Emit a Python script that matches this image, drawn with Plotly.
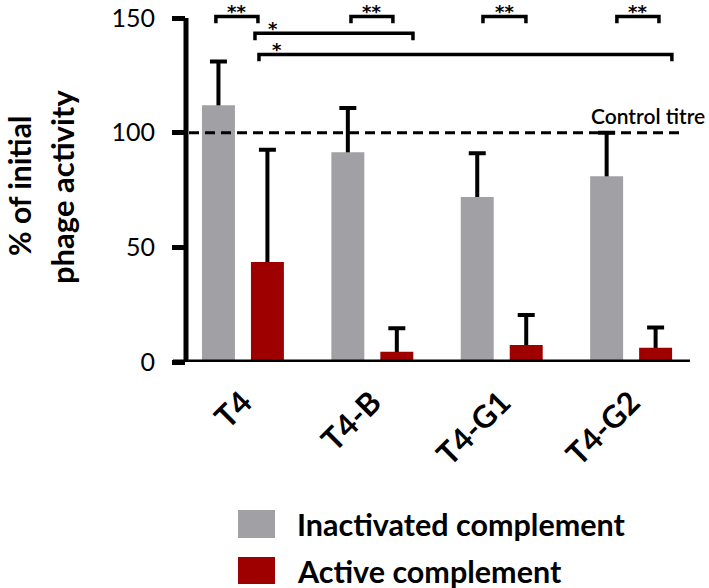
import plotly.graph_objects as go

# data
categories = ["T4", "T4-B", "T4-G1", "T4-G2"]
inactivated = [112, 91.5, 72, 81]
inactivated_err = [19, 19.3, 19, 19]
active = [43.6, 4.5, 7.4, 6.2]
active_err = [48.9, 10.2, 13.1, 8.8]

series_names = ["Inactivated complement", "Active complement"]
control_titre = 100

# significance brackets (category units), label and level
bracket_x0 = [-0.209, 0.835, 1.855, 2.890, 0.093, 0.124]
bracket_x1 = [0.116, 1.159, 2.187, 3.215, 1.314, 3.315]
bracket_y = [150.7, 150.7, 150.7, 150.7, 143.3, 134.1]
bracket_text = ["**", "**", "**", "**", "*", "*"]

GREY = "#A1A1A5"
RED = "#9E0000"
FONT = "Lato"

W, H = 709, 588
L, R, T, B = 186, 19, 0, 226
PW, PH = W - L - R, H - T - B
UNIT = 344 / 150          # pixels per percent
Y_TOP = (H - B) / UNIT


def px_x(px):
    return (px - L) / PW


def px_y(px):
    return (H - B - px) / PH


def px_val(px):
    return (H - B - px) / UNIT


fig = go.Figure()

# error bars go first so the bars on top hide the part inside them
for vals, errs, grp in [(inactivated, inactivated_err, "a"), (active, active_err, "b")]:
    fig.add_trace(go.Bar(
        x=categories, y=vals, offsetgroup=grp,
        marker=dict(color="rgba(0,0,0,0)", line=dict(width=0)),
        error_y=dict(type="data", symmetric=False, array=errs, arrayminus=vals,
                     color="black", thickness=4, width=8.5),
        showlegend=False, hoverinfo="skip",
    ))

for vals, color, grp, name in [(inactivated, GREY, "a", series_names[0]),
                               (active, RED, "b", series_names[1])]:
    fig.add_trace(go.Bar(
        x=categories, y=vals, offsetgroup=grp, name=name,
        marker=dict(color=color, line=dict(width=0)),
        showlegend=False,
    ))

shapes = []
# axis lines
shapes.append(dict(type="line", xref="paper", yref="y", x0=px_x(173), x1=1, y0=0, y1=0,
                   line=dict(color="black", width=5)))
shapes.append(dict(type="line", xref="paper", yref="y", x0=0, x1=0, y0=0, y1=150,
                   line=dict(color="black", width=5)))
# control titre
shapes.append(dict(type="line", xref="paper", yref="y", x0=px_x(173), x1=px_x(683),
                   y0=control_titre, y1=control_titre,
                   line=dict(color="black", width=3, dash="10px,6px")))

annotations = []
for x0, x1, y, txt in zip(bracket_x0, bracket_x1, bracket_y, bracket_text):
    leg = y - 3.0
    shapes.append(dict(type="path", xref="x", yref="y",
                       path=f"M {x0},{leg} L {x0},{y} L {x1},{y} L {x1},{leg}",
                       line=dict(color="black", width=3.5)))
    lx = (x0 + x1) / 2 if txt == "**" else x0 + 0.14
    annotations.append(dict(x=lx, y=y, xref="x", yref="y", text=f"<b>{txt}</b>",
                            showarrow=False, xanchor="center", yanchor="bottom",
                            yshift=-8, font=dict(family="DejaVu Sans", size=18, color="black")))

annotations.append(dict(x=px_x(707), y=px_val(115.5), xref="paper", yref="y",
                        text="Control titre", showarrow=False, xanchor="right",
                        yanchor="middle",
                        font=dict(family=FONT, size=21, color="black", weight=600)))

# y title, two lines
annotations.append(dict(x=px_x(19), y=px_y(186), xref="paper", yref="paper",
                        text="<b>% of initial</b>", textangle=-90, showarrow=False,
                        xanchor="center", yanchor="middle",
                        font=dict(family=FONT, size=30, color="black")))
annotations.append(dict(x=px_x(62), y=px_y(187), xref="paper", yref="paper",
                        text="<b>phage activity</b>", textangle=-90, showarrow=False,
                        xanchor="center", yanchor="middle",
                        font=dict(family=FONT, size=31, color="black")))

# legend drawn by hand
for name, color, top, bot in [(series_names[0], GREY, 510, 538),
                              (series_names[1], RED, 557, 584)]:
    shapes.append(dict(type="rect", xref="paper", yref="paper",
                       x0=px_x(238), x1=px_x(275), y0=px_y(bot), y1=px_y(top),
                       fillcolor=color, line=dict(width=0)))
    annotations.append(dict(x=px_x(295), y=px_y((top + bot) / 2), xref="paper", yref="paper",
                            text=f"<b>{name}</b>", showarrow=False, xanchor="left",
                            yanchor="middle",
                            font=dict(family=FONT, size=30.5, color="black")))

fig.update_layout(
    width=W, height=H,
    margin=dict(l=L, r=R, t=T, b=B),
    paper_bgcolor="white", plot_bgcolor="white",
    barmode="group", bargap=0.243, bargroupgap=0.327,
    shapes=shapes, annotations=annotations,
    showlegend=False,
    xaxis=dict(range=[-0.44, 3.455], showline=False, showgrid=False, zeroline=False,
               ticks="", tickangle=-45, ticklabelstandoff=15,
               tickfont=dict(family=FONT, size=31, color="black", weight="bold")),
    yaxis=dict(range=[0, Y_TOP], tickvals=[0, 50, 100, 150], showline=False,
               showgrid=False, zeroline=False, ticks="outside", ticklen=13, tickwidth=5,
               tickcolor="black", ticklabelstandoff=12,
               tickfont=dict(family=FONT, size=25, color="black")),
)

# the page body has a default 8px margin; drop it so the figure sits at 0,0
fig.write_html("out.html", config={"displayModeBar": False},
               post_script="document.body.style.margin='0';")
